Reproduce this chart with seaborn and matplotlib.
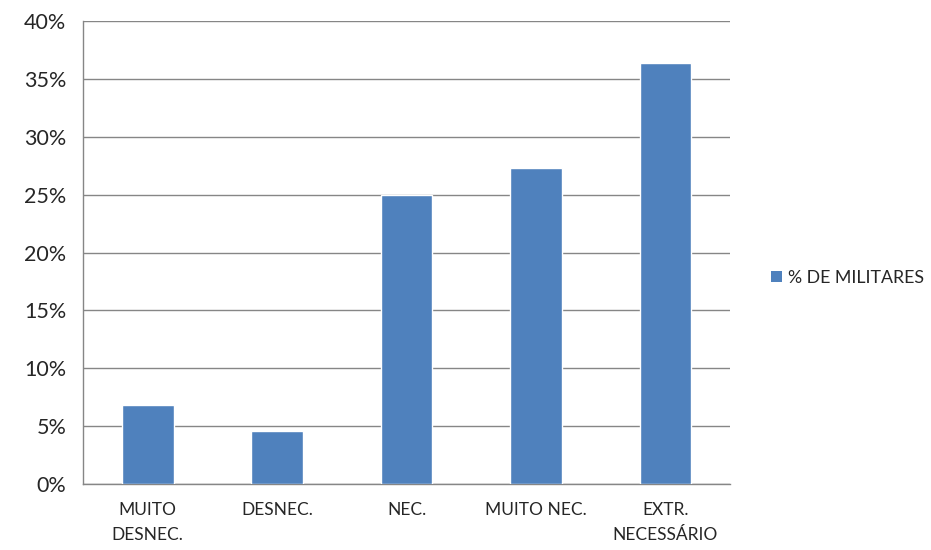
import matplotlib
matplotlib.use("Agg")
import matplotlib.pyplot as plt
import seaborn as sns
import pandas as pd
from matplotlib.patches import Patch

categorias = ["MUITO\nDESNEC.", "DESNEC.", "NEC.", "MUITO NEC.", "EXTR.\nNECESSÁRIO"]
percentuais = [6.82, 4.55, 25.0, 27.27, 36.36]
serie = "% DE MILITARES"
yticks = [0, 5, 10, 15, 20, 25, 30, 35, 40]
ytick_labels = ["0%", "5%", "10%", "15%", "20%", "25%", "30%", "35%", "40%"]

sns.set_style("white")
plt.rcParams["font.family"] = ["Lato", "DejaVu Sans"]

cor_barra = "#4F81BD"
cor_grade = "#868686"

df = pd.DataFrame({"categoria": categorias, "valor": percentuais})

fig = plt.figure(figsize=(9.31, 5.5), dpi=100)
ax = fig.add_axes([0.0892, 0.12, 0.6950, 0.8418])

sns.barplot(data=df, x="categoria", y="valor", color=cor_barra, width=0.4,
            saturation=1, ax=ax, zorder=3)

ax.set_ylim(0, 40)
ax.set_xlim(-0.5, len(categorias) - 0.5)
ax.set_yticks(yticks)
ax.set_yticklabels(ytick_labels, fontsize=15.5)
ax.set_xlabel("")
ax.set_ylabel("")
ax.set_xticks(range(len(categorias)))
ax.set_xticklabels(categorias, fontsize=12.5)
ax.tick_params(axis="x", length=0, pad=13)
ax.tick_params(axis="y", length=6, width=1, color=cor_grade, pad=6)

# tick marks between categories
ax.set_xticks([i - 0.5 for i in range(len(categorias) + 1)], minor=True)
ax.tick_params(axis="x", which="minor", length=6, width=1, color=cor_grade)

ax.yaxis.grid(True, color=cor_grade, linewidth=1)
ax.set_axisbelow(True)
for s in ["top", "right"]:
    ax.spines[s].set_visible(False)
for s in ["left", "bottom"]:
    ax.spines[s].set_color(cor_grade)
    ax.spines[s].set_linewidth(1)

handle = Patch(facecolor=cor_barra, edgecolor="none")
fig.legend([handle], [serie], loc="center left", bbox_to_anchor=(0.824, 0.495),
           frameon=False, fontsize=12.8, handlelength=0.65, handleheight=0.65,
           handletextpad=0.3, borderaxespad=0, borderpad=0.2)

# wider spacing for the two-line category labels
fig.canvas.draw()
for tick in ax.xaxis.get_major_ticks():
    tick.label1.set_linespacing(1.65)

fig.savefig("out.png", dpi=100)
